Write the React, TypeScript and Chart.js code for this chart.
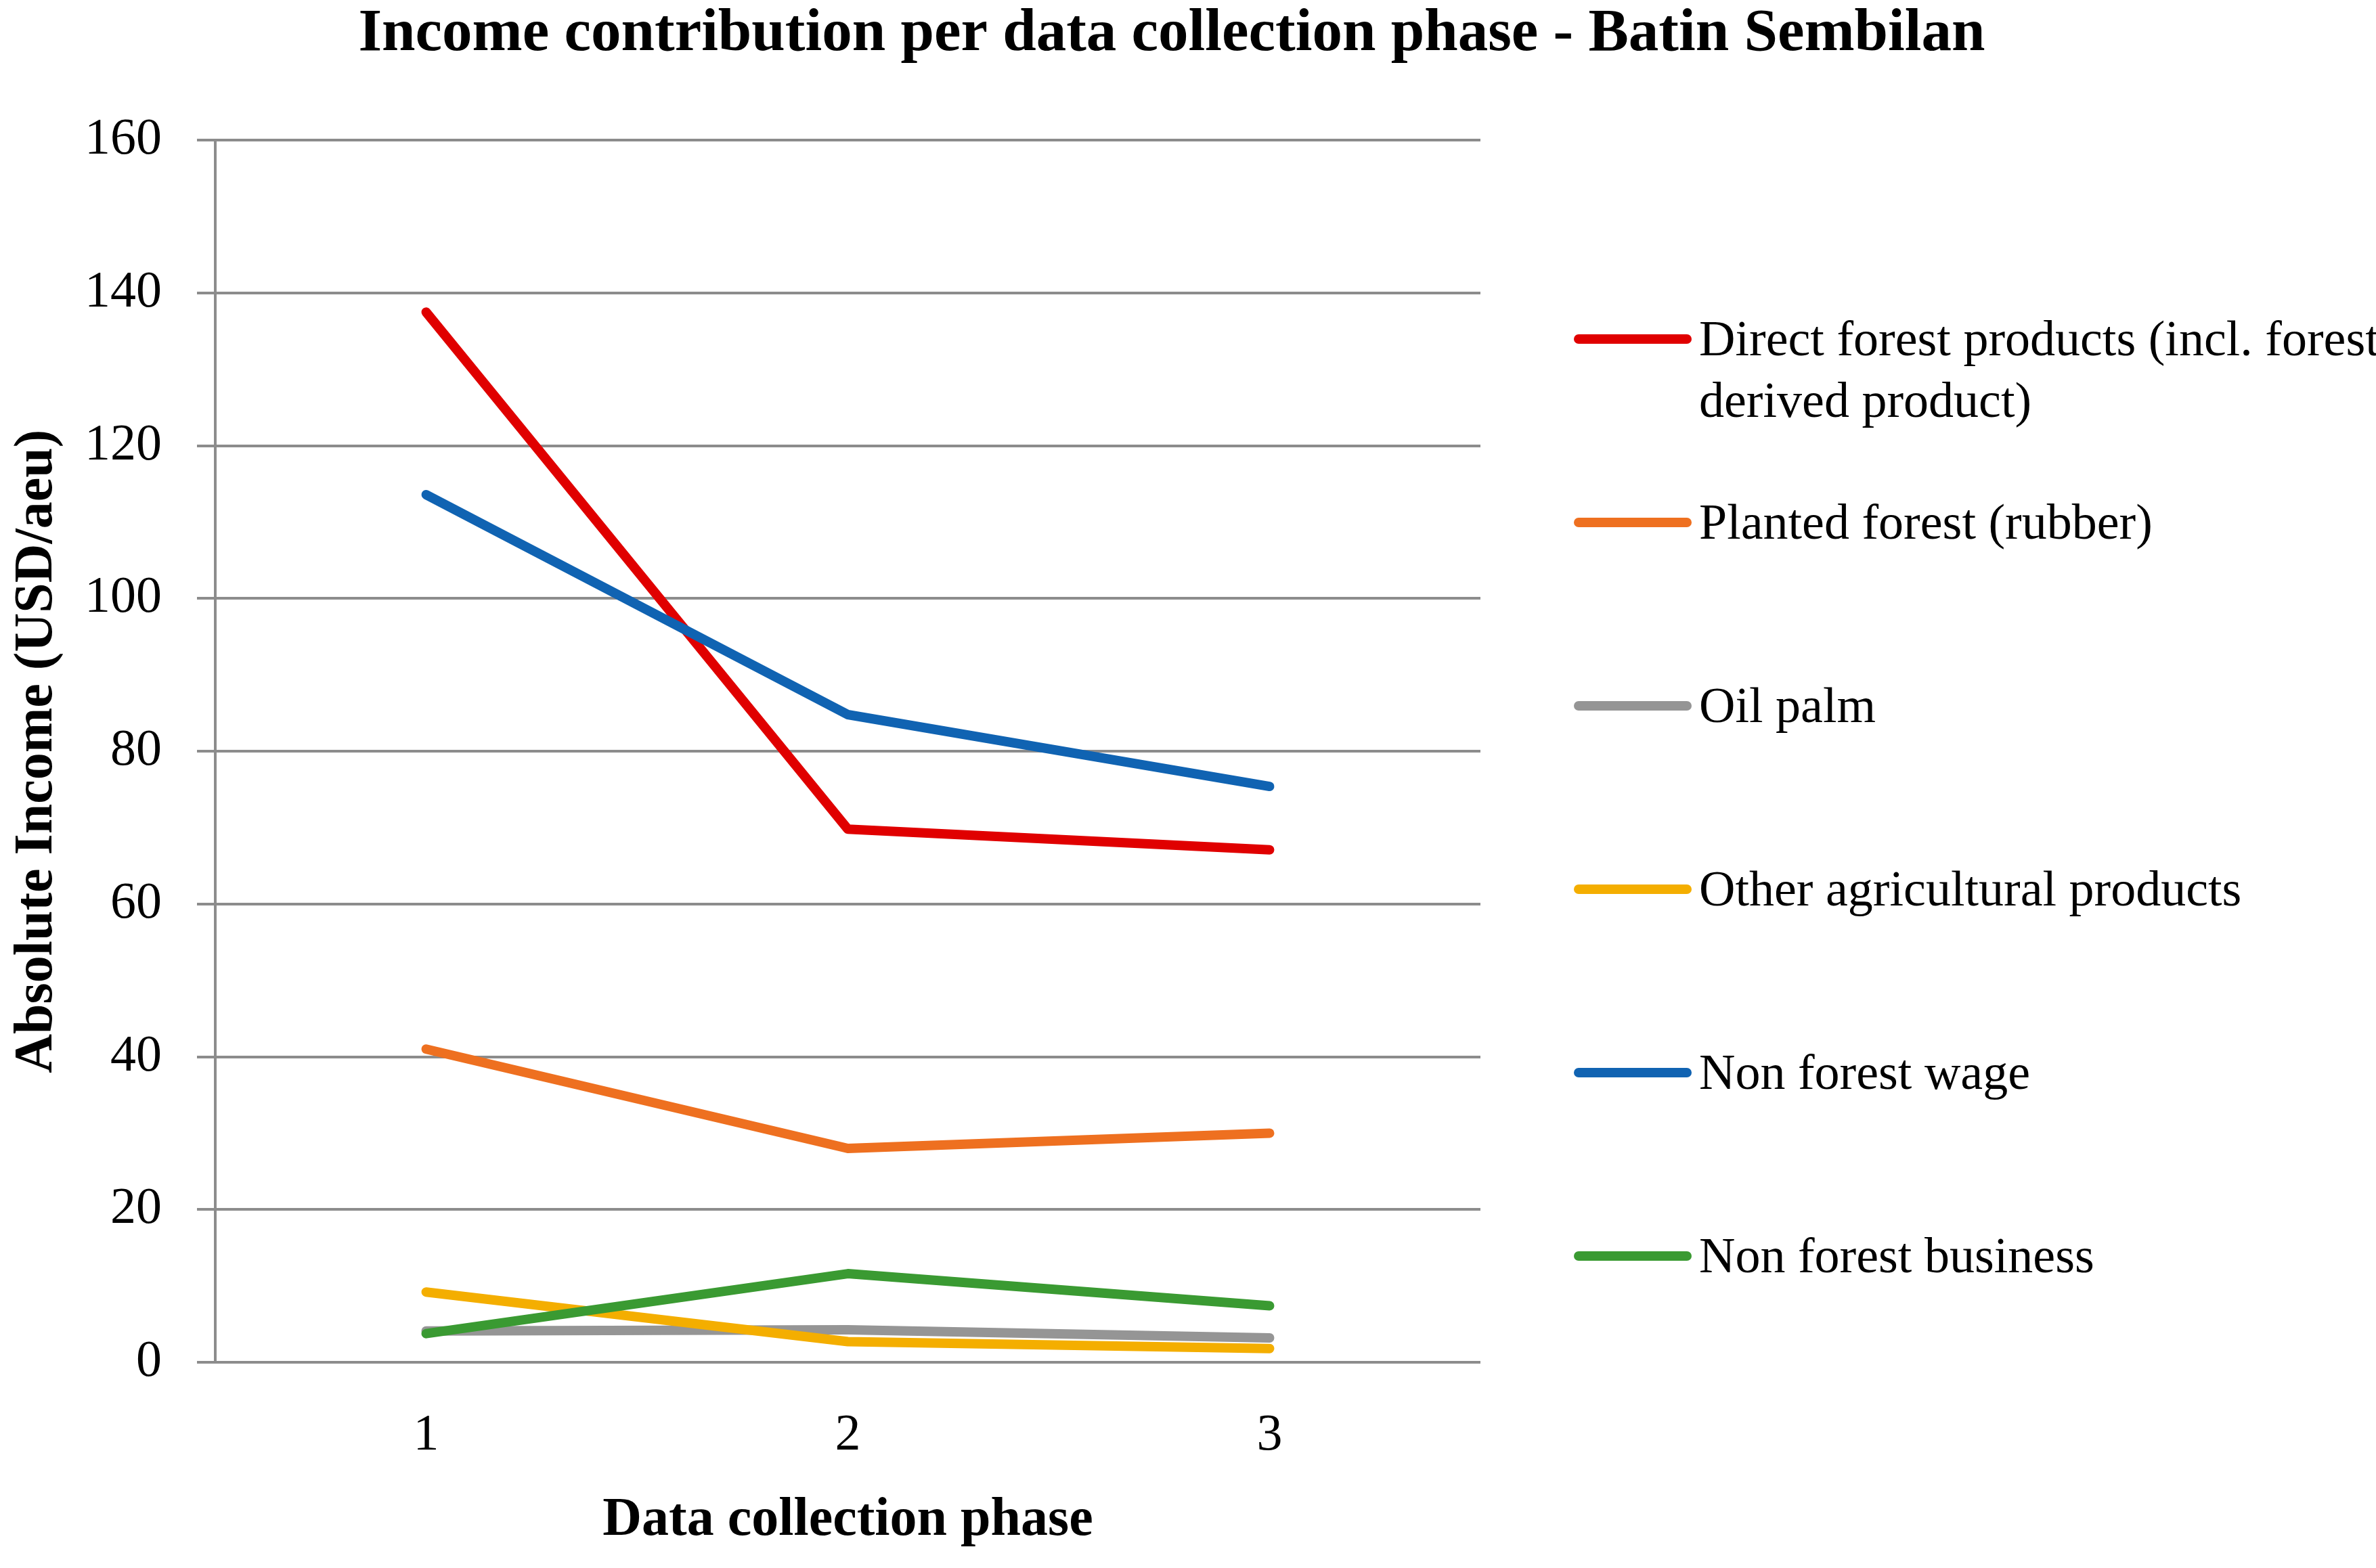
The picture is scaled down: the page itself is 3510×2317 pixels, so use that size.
import React, { useEffect, useRef } from "react";
import { Chart, registerables } from "chart.js";

Chart.register(...registerables);

// ---------- data ----------
const categories = ["1", "2", "3"];
const seriesNames = [
  "Direct forest products (incl. forest derived product)",
  "Planted forest (rubber)",
  "Oil palm",
  "Other agricultural products",
  "Non forest wage",
  "Non forest business",
];
const legendLines: string[][] = [
  ["Direct forest products (incl. forest", "derived product)"],
  ["Planted forest (rubber)"],
  ["Oil palm"],
  ["Other agricultural products"],
  ["Non forest wage"],
  ["Non forest business"],
];
const directForest = [137.5, 69.8, 67.1];
const plantedForest = [41.0, 28.0, 30.0];
const oilPalm = [4.1, 4.25, 3.2];
const otherAgri = [9.2, 2.7, 1.8];
const nonForestWage = [113.6, 84.8, 75.4];
const nonForestBusiness = [3.75, 11.6, 7.4];
const seriesValues = [directForest, plantedForest, oilPalm, otherAgri, nonForestWage, nonForestBusiness];
const seriesColors = ["#E00000", "#EE7020", "#959595", "#F4AE00", "#1063B2", "#3A9A32"];

const yMin = 0;
const yMax = 160;
const yStep = 20;

const TITLE = "Income contribution per data collection phase - Batin Sembilan";
const X_TITLE = "Data collection phase";
const Y_TITLE = "Absolute Income (USD/aeu)";

// ---------- layout / style ----------
const W = 3510;
const H = 2317;
const FONT = "'Liberation Serif', 'Times New Roman', serif";
const GRID = "#8C8C8C";
const PAD_RIGHT = 48;
const PLOT_RIGHT = 2187;
const LEGEND = {
  x: 2325,
  len: 174,
  textX: 2510,
  firstY: 501,
  step: 271,
  lineGap: 90.5,
  fontSize: 74,
  lineWidth: 14,
};

export default function App() {
  const ref = useRef<HTMLCanvasElement | null>(null);

  useEffect(() => {
    document.body.style.margin = "0";
    const canvas = ref.current;
    if (!canvas) return;

    const sideLegend = {
      id: "sideLegend",
      afterDraw(chart: any) {
        const c = chart.ctx as CanvasRenderingContext2D;
        c.save();
        chart.data.datasets.forEach((ds: any, i: number) => {
          const y = LEGEND.firstY + i * LEGEND.step;
          c.strokeStyle = ds.borderColor;
          c.lineWidth = LEGEND.lineWidth;
          c.lineCap = "round";
          c.beginPath();
          c.moveTo(LEGEND.x + LEGEND.lineWidth / 2, y);
          c.lineTo(LEGEND.x + LEGEND.len - LEGEND.lineWidth / 2, y);
          c.stroke();
          c.fillStyle = "#000";
          c.font = `${LEGEND.fontSize}px ${FONT}`;
          c.textBaseline = "alphabetic";
          c.textAlign = "left";
          const capHalf = LEGEND.fontSize * 0.331;
          legendLines[i].forEach((t, j) => {
            c.fillText(t, LEGEND.textX, y + capHalf + j * LEGEND.lineGap);
          });
        });
        c.restore();
      },
    };

    const chart = new Chart(canvas, {
      type: "line",
      data: {
        labels: categories,
        datasets: seriesNames.map((name, i) => ({
          label: name,
          data: seriesValues[i],
          borderColor: seriesColors[i],
          backgroundColor: seriesColors[i],
          borderWidth: 14,
          borderCapStyle: "round",
          borderJoinStyle: "round",
          pointRadius: 0,
          pointHoverRadius: 0,
          tension: 0,
          fill: false,
          order: seriesNames.length - 1 - i,
        })),
      },
      options: {
        animation: false,
        responsive: false,
        devicePixelRatio: 1,
        layout: { padding: { left: 0, right: PAD_RIGHT, top: 0, bottom: 0 } },
        plugins: {
          legend: { display: false },
          tooltip: { enabled: false },
          title: {
            display: true,
            text: TITLE,
            color: "#000",
            font: { family: FONT, size: 89, weight: "bold", lineHeight: 1.15 },
            padding: { top: 0, bottom: 105 },
          },
        },
        scales: {
          x: {
            type: "category",
            offset: true,
            grid: { display: false, drawTicks: false },
            border: { display: false },
            ticks: {
              color: "#000",
              padding: 63,
              font: { family: FONT, size: 76, lineHeight: 1.2 },
            },
            title: {
              display: true,
              text: X_TITLE,
              color: "#000",
              font: { family: FONT, size: 80, weight: "bold", lineHeight: 1.2 },
              padding: { top: 0, bottom: 22 },
            },
            afterFit(scale: any) {
              scale.height = 304;
            },
          },
          y: {
            min: yMin,
            max: yMax,
            ticks: {
              stepSize: yStep,
              color: "#000",
              padding: 52,
              font: { family: FONT, size: 76, lineHeight: 1.2 },
            },
            grid: { color: GRID, lineWidth: 4, tickLength: 27, drawTicks: true },
            border: { display: true, color: GRID, width: 4 },
            title: {
              display: true,
              text: Y_TITLE,
              color: "#000",
              font: { family: FONT, size: 80, weight: "bold", lineHeight: 1.2 },
              padding: { top: 7, bottom: 0 },
            },
            afterFit(scale: any) {
              scale.width = 318;
            },
          },
          legendSpace: {
            type: "linear",
            position: "right",
            display: true,
            grid: { display: false, drawTicks: false },
            border: { display: false },
            ticks: { display: false },
            afterFit(scale: any) {
              scale.width = W - PAD_RIGHT - PLOT_RIGHT;
            },
          },
        },
      },
      plugins: [sideLegend],
    } as any);

    return () => chart.destroy();
  }, []);

  return (
    <div style={{ width: W, height: H, background: "#fff" }}>
      <canvas ref={ref} width={W} height={H} style={{ display: "block", width: W, height: H }} />
    </div>
  );
}
